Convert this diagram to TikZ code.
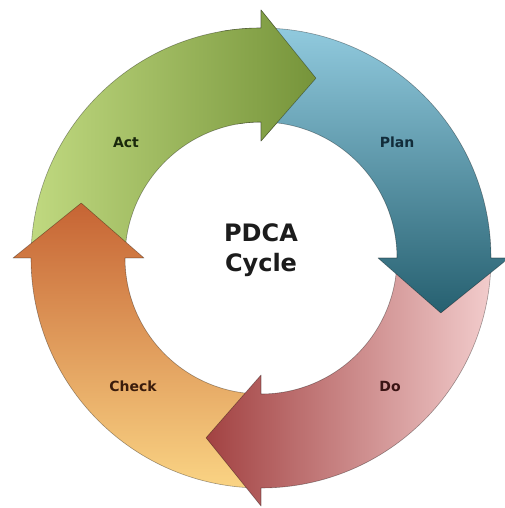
\documentclass[tikz,border=0pt]{standalone}
\usepackage{fontspec}
\setmainfont{DejaVu Sans}
\definecolor{actlight}{RGB}{192,217,128}
\definecolor{actdark}{RGB}{118,148,58}
\definecolor{planlight}{RGB}{145,202,222}
\definecolor{plandark}{RGB}{38,96,112}
\definecolor{dolight}{RGB}{242,204,204}
\definecolor{dodark}{RGB}{162,66,66}
\definecolor{checklight}{RGB}{250,212,132}
\definecolor{checkdark}{RGB}{198,100,52}
\definecolor{acttext}{RGB}{26,40,12}
\definecolor{plantext}{RGB}{18,44,58}
\definecolor{dotext}{RGB}{58,20,20}
\definecolor{checktext}{RGB}{58,28,12}
\definecolor{titletext}{RGB}{28,28,28}
\newcommand\pdcaarrow[3]{%
  \path[#3] (#1:136pt) -- (#1:230pt)
    arc[start angle=#1, end angle=#2, radius=230pt]
    -- (#2:248pt) -- ({#2-17}:188pt) -- (#2:117pt) -- (#2:136pt)
    arc[start angle=#2, end angle=#1, radius=136pt] -- cycle;}
\tikzset{
  arrowbase/.style={draw=black, draw opacity=0.35, line width=0.6pt, line join=round},
  actarrow/.style={arrowbase, left color=actlight, right color=actdark},
  planarrow/.style={arrowbase, top color=planlight, bottom color=plandark},
  doarrow/.style={arrowbase, right color=dolight, left color=dodark},
  checkarrow/.style={arrowbase, bottom color=checklight, top color=checkdark},
  steplabel/.style={font=\bfseries\fontsize{14}{16}\selectfont, inner sep=0pt},
  titlelabel/.style={font=\bfseries\fontsize{24}{28}\selectfont, text=titletext, inner sep=0pt, anchor=base}
}
\begin{document}
\begin{tikzpicture}[x=1pt,y=1pt]
\useasboundingbox[fill=white] (-261,-250) rectangle (243,258);
\pdcaarrow{180}{90}{actarrow}
\pdcaarrow{270}{180}{checkarrow}
\pdcaarrow{360}{270}{doarrow}
\pdcaarrow{90}{0}{planarrow}
\begin{scope}
  \clip (0,0) -- (100:320) -- (55:320) -- cycle;
  \pdcaarrow{180}{90}{actarrow}
\end{scope}
\node[steplabel, text=acttext] (act) at (-135,116) {Act};
\node[steplabel, text=plantext] (plan) at (136,116) {Plan};
\node[steplabel, text=checktext] (check) at (-128,-128) {Check};
\node[steplabel, text=dotext] (do) at (129,-128) {Do};
\node[titlelabel] (pdca) at (0,16) {PDCA};
\node[titlelabel] (cycle) at (0,-14) {Cycle};
\end{tikzpicture}
\end{document}
